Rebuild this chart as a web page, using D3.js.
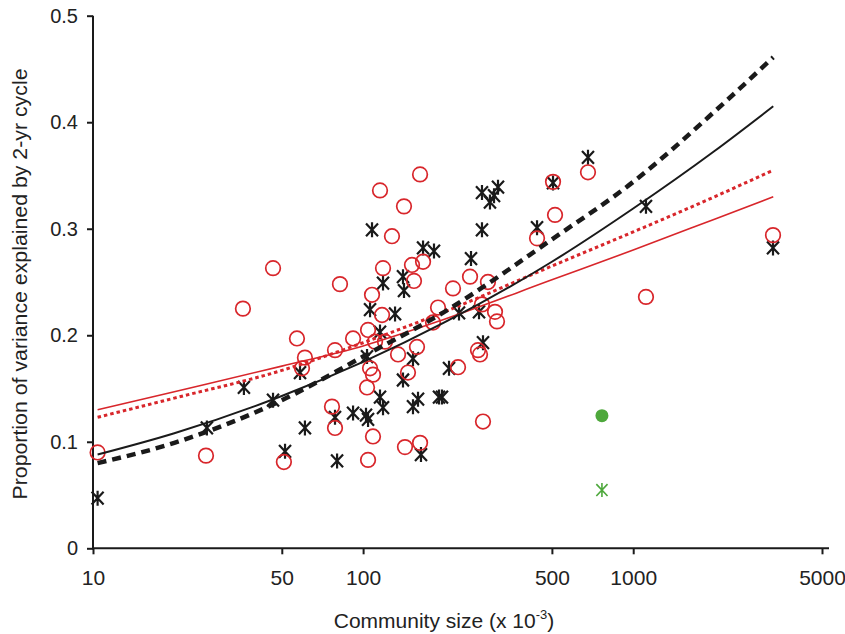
<!DOCTYPE html>
<html>
<head>
<meta charset="utf-8">
<script src="https://cdn.jsdelivr.net/npm/d3@7"></script>
<style>
  html, body { margin: 0; padding: 0; background: #fff; }
  svg { display: block; font-family: "Liberation Sans", Arial, Helvetica, sans-serif; }
</style>
</head>
<body>
<svg id="chart" width="845" height="634"></svg>
<script>
// ---------------- data ----------------
const xTicks = [10, 50, 100, 500, 1000, 5000];
const yTicks = [0, 0.1, 0.2, 0.3, 0.4, 0.5];

// red open circles: community size (x 10^3) and proportion of variance
const circleX = [10.4, 26.2, 35.9, 46.4, 56.9, 60.9, 59.4, 50.9, 82.1, 76.7, 78.7, 78.7, 91.8, 104.3, 108.8,
  103.4, 106.1, 108.8, 104.3, 110.7, 120.5, 117.5, 107.9, 115.5, 127.9, 141.7, 118.5, 162.5, 158.3, 134.7,
  146.6, 142.9, 162.5, 181.5, 189.4, 151.7, 166.7, 154.3, 215.2, 248.8, 289.9, 275.5, 307.8, 313.1, 266.3,
  270.9, 224.6, 277.9, 440.5, 504.8, 513.5, 680.1, 1115, 3293];
const circleY = [0.090, 0.087, 0.225, 0.263, 0.197, 0.179, 0.169, 0.081, 0.248, 0.133, 0.113, 0.186, 0.197, 0.083, 0.105,
  0.151, 0.169, 0.163, 0.205, 0.194, 0.194, 0.219, 0.238, 0.336, 0.293, 0.321, 0.263, 0.351, 0.189, 0.182,
  0.165, 0.095, 0.099, 0.212, 0.226, 0.266, 0.269, 0.251, 0.244, 0.255, 0.250, 0.229, 0.222, 0.213, 0.186,
  0.182, 0.170, 0.119, 0.291, 0.344, 0.313, 0.353, 0.236, 0.294];

// black asterisks
const starX = [10.4, 26.4, 36.2, 46.4, 51.4, 58.4, 60.9, 80.1, 78.7, 91.8, 102.5, 104.3, 115.5, 118.5, 106.1,
  131.3, 115.5, 141.7, 153.0, 140.5, 159.7, 153.0, 191.0, 163.8, 107.9, 166.7, 183.0, 140.5, 118.5, 275.5,
  315.8, 294.9, 305.3, 275.5, 250.9, 440.5, 504.8, 680.1, 1115, 3293, 226.5, 268.6, 277.9, 208.0, 195.9, 103.4];
const starY = [0.047, 0.113, 0.151, 0.139, 0.091, 0.165, 0.113, 0.082, 0.123, 0.127, 0.125, 0.121, 0.142, 0.132, 0.224,
  0.220, 0.203, 0.242, 0.178, 0.158, 0.140, 0.133, 0.142, 0.088, 0.299, 0.282, 0.279, 0.255, 0.249, 0.334,
  0.339, 0.325, 0.331, 0.299, 0.272, 0.301, 0.343, 0.367, 0.321, 0.282, 0.221, 0.222, 0.193, 0.169, 0.142, 0.180];

// green outliers
const greenCircleX = [766];
const greenCircleY = [0.1245];
const greenStarX = [766];
const greenStarY = [0.0547];

// fitted curves, read at these community sizes
const fitX = [10.4, 20, 50, 100, 200, 500, 1000, 2000, 3300];
const fitBlackSolid  = [0.088, 0.108, 0.143, 0.175, 0.212, 0.269, 0.319, 0.373, 0.415];
const fitBlackDashed = [0.080, 0.099, 0.139, 0.180, 0.222, 0.290, 0.344, 0.410, 0.461];
const fitRedSolid    = [0.130, 0.147, 0.171, 0.190, 0.215, 0.252, 0.280, 0.309, 0.330];
const fitRedDotted   = [0.123, 0.141, 0.167, 0.193, 0.222, 0.265, 0.297, 0.330, 0.355];

// ---------------- drawing ----------------
const RED = "#d8262b", BLACK = "#1a1a1a", GREEN = "#4ea83c", TEXT = "#222";
const FONT = "Liberation Sans, Arial, sans-serif";
const svg = d3.select("#chart");

const x = d3.scaleLog().domain([10, 5000]).range([93, 822]);
const y = d3.scaleLinear().domain([0, 0.5]).range([548.3, 15.7]);

// axes
const yAxis = d3.axisLeft(y).tickValues(yTicks)
  .tickFormat(d => d === 0 ? "0" : d3.format(".1f")(d))
  .tickSize(6).tickSizeOuter(0).tickPadding(9);
const gy = svg.append("g").attr("transform", `translate(${x(10)},0)`).call(yAxis);
gy.select(".domain").remove();
gy.selectAll(".tick line").attr("stroke", BLACK).attr("stroke-width", 2);
gy.selectAll(".tick text").attr("font-size", 20).attr("fill", TEXT).attr("font-family", FONT);

const xAxis = d3.axisBottom(x).tickValues(xTicks).tickFormat(d3.format("d"))
  .tickSize(6).tickSizeOuter(0).tickPadding(16);
const gx = svg.append("g").attr("transform", `translate(0,${y(0)})`).call(xAxis);
gx.select(".domain").remove();
gx.selectAll(".tick line").attr("stroke", BLACK).attr("stroke-width", 2);
gx.selectAll(".tick text").attr("font-size", 21).attr("fill", TEXT).attr("font-family", FONT);

// axis lines
svg.append("line").attr("x1", x(10)).attr("x2", x(10)).attr("y1", y(0) + 1).attr("y2", y(0.5))
  .attr("stroke", BLACK).attr("stroke-width", 2);
svg.append("line").attr("x1", x(10) - 1).attr("x2", x(5000) + 7).attr("y1", y(0)).attr("y2", y(0))
  .attr("stroke", BLACK).attr("stroke-width", 2);

// axis titles
svg.append("text")
  .attr("transform", `translate(27,284) rotate(-90)`)
  .attr("text-anchor", "middle").attr("font-size", 20.5).attr("fill", TEXT)
  .attr("textLength", 431).attr("lengthAdjust", "spacingAndGlyphs")
  .text("Proportion of variance explained by 2-yr cycle");

const xt = svg.append("text")
  .attr("x", 444).attr("y", 628).attr("text-anchor", "middle")
  .attr("font-size", 21).attr("fill", TEXT);
xt.append("tspan").text("Community size (x 10");
xt.append("tspan").attr("font-size", 13).attr("dy", -9).text("-3");
xt.append("tspan").attr("dy", 9).text(")");

// asterisk symbol path: vertical bar plus an X
function starPath(s) {
  const a = s, b = s * 0.8, c = s * 0.85;
  return `M0,${-a}L0,${a}M${-b},${-c}L${b},${c}M${-b},${c}L${b},${-c}`;
}

// black asterisks
svg.append("g").selectAll("path").data(starX.map((v, i) => [v, starY[i]])).join("path")
  .attr("transform", d => `translate(${x(d[0])},${y(d[1])})`)
  .attr("d", starPath(7.5))
  .attr("fill", "none").attr("stroke", BLACK).attr("stroke-width", 2.2);

// red circles
svg.append("g").selectAll("circle").data(circleX.map((v, i) => [v, circleY[i]])).join("circle")
  .attr("cx", d => x(d[0])).attr("cy", d => y(d[1])).attr("r", 7.3)
  .attr("fill", "none").attr("stroke", RED).attr("stroke-width", 1.7);

// green outliers
svg.append("g").selectAll("circle").data(greenCircleX.map((v, i) => [v, greenCircleY[i]])).join("circle")
  .attr("cx", d => x(d[0])).attr("cy", d => y(d[1])).attr("r", 6.5).attr("fill", GREEN);
svg.append("g").selectAll("path").data(greenStarX.map((v, i) => [v, greenStarY[i]])).join("path")
  .attr("transform", d => `translate(${x(d[0])},${y(d[1])})`)
  .attr("d", starPath(7))
  .attr("fill", "none").attr("stroke", GREEN).attr("stroke-width", 1.6);

// fitted lines
const line = d3.line().x(d => x(d[0])).y(d => y(d[1])).curve(d3.curveMonotoneX);
const fits = [
  { v: fitRedSolid, color: RED, w: 1.6, dash: null },
  { v: fitRedDotted, color: RED, w: 3, dash: "3.5,3" },
  { v: fitBlackSolid, color: BLACK, w: 2, dash: null },
  { v: fitBlackDashed, color: BLACK, w: 4.5, dash: "9,6" }
];
svg.append("g").selectAll("path").data(fits).join("path")
  .attr("d", f => line(fitX.map((v, i) => [v, f.v[i]])))
  .attr("fill", "none").attr("stroke", f => f.color).attr("stroke-width", f => f.w)
  .attr("stroke-dasharray", f => f.dash);
</script>
</body>
</html>
